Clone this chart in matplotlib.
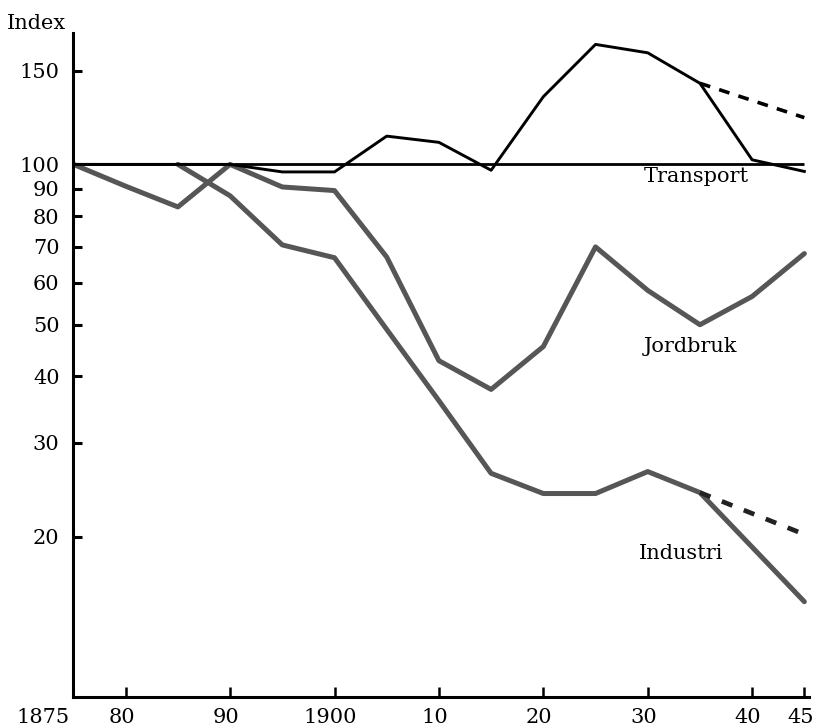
import matplotlib
matplotlib.use("Agg")
import matplotlib.pyplot as plt
import matplotlib.transforms as mtransforms
import numpy as np

years = [1875, 1880, 1885, 1890, 1895, 1900, 1905, 1910, 1915, 1920, 1925, 1930, 1935, 1940, 1945]

# reference line at index 100
base_years = [1875, 1945]
base_values = [100, 100]

transport = [100, 100, 100, 100, 96.8, 96.8, 113, 110, 97.5, 134, 168, 162, 142, 102, 97]
jordbruk = [100, 91, 83.2, 100, 90.7, 89.3, 67, 42.8, 37.8, 45.5, 70, 58, 50, 56.5, 68]
industri_years = [1885, 1890, 1895, 1900, 1905, 1910, 1915, 1920, 1925, 1930, 1935, 1945]
industri = [100, 87.3, 70.6, 66.8, 49, 36, 26.3, 24.1, 24.1, 26.5, 24.2, 15.1]

# dashed alternatives after 1935
dash_years = [1935, 1945]
transport_dash = [142, 122.4]
industri_dash = [24.2, 20.2]

yticks = [20, 30, 40, 50, 60, 70, 80, 90, 100, 150]
xticks = [1875, 1880, 1890, 1900, 1910, 1920, 1930, 1940, 1945]
xticklabels = ["1875", "80", "90", "1900", "10", "20", "30", "40", "45"]

plt.rcParams['font.family'] = ['DejaVu Serif']

fig = plt.figure(figsize=(8.21, 7.28), dpi=100)
ax = fig.add_axes([0.0895, 0.0426, 0.8953, 0.9121])

gray = '#565656'
ax.plot(base_years, base_values, color='black', lw=2.0, solid_capstyle='butt')
ax.plot(years, jordbruk, color=gray, lw=3.6, solid_joinstyle='round', solid_capstyle='round')
ax.plot(industri_years, industri, color=gray, lw=3.6, solid_joinstyle='round', solid_capstyle='round')
ax.plot(years, transport, color='black', lw=2.1, solid_joinstyle='round')
ax.plot(dash_years, transport_dash, color='black', lw=2.6, dashes=(3, 2.6))
ax.plot(dash_years, industri_dash, color='#222222', lw=3.4, dashes=(2.4, 2.6))

ax.set_yscale('log')
ax.set_ylim(10, 176.5)
ax.set_xlim(1875, 1945.4)

ax.set_yticks(yticks)
ax.set_yticklabels([str(v) for v in yticks])
ax.yaxis.set_minor_locator(matplotlib.ticker.NullLocator())
ax.set_xticks(xticks)
ax.set_xticklabels(xticklabels)

for side in ['top', 'right']:
    ax.spines[side].set_visible(False)
for side in ['left', 'bottom']:
    ax.spines[side].set_linewidth(2.2)

ax.tick_params(axis='y', direction='in', length=6.5, width=2.2, labelsize=15, pad=10)
ax.tick_params(axis='x', direction='in', length=7, width=1.8, labelsize=15, pad=8)

# x labels sit a little to the left of their ticks
shift = mtransforms.ScaledTranslation(-4 / 100, 0, fig.dpi_scale_trans)
for lab in ax.get_xticklabels():
    lab.set_transform(lab.get_transform() + shift)
ax.get_xticklabels()[0].set_horizontalalignment('right')

ax.text(1934.7, 94.7, "Transport", fontsize=15, ha='center', va='center')
ax.text(1934.1, 45.5, "Jordbruk", fontsize=15, ha='center', va='center')
ax.text(1933.2, 18.6, "Industri", fontsize=15, ha='center', va='center')

fig.text(0.008, 0.968, "Index", fontsize=15, ha='left', va='center')

fig.savefig("out.png", dpi=100)
